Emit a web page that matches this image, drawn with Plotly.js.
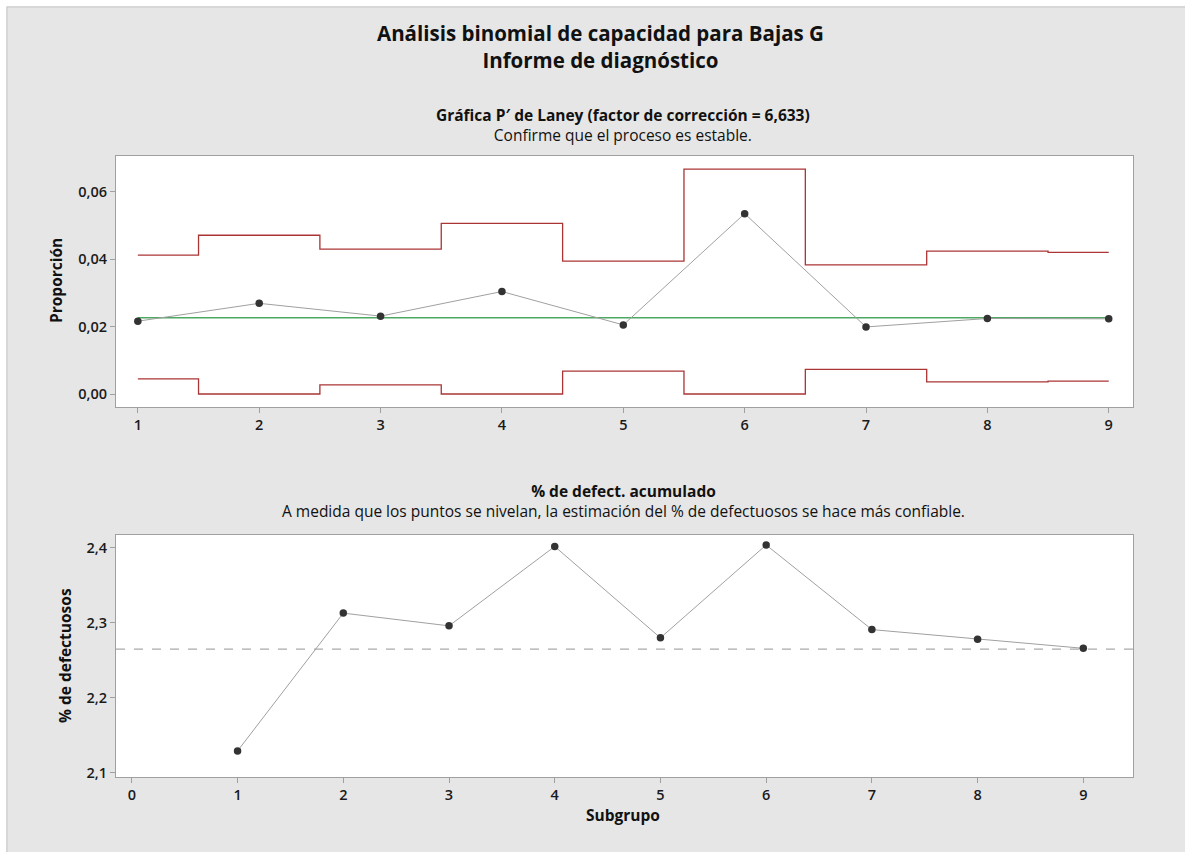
<!DOCTYPE html>
<html>
<head>
<meta charset="utf-8">
<script src="https://cdn.plot.ly/plotly-3.0.1.min.js"></script>
<style>html,body{margin:0;padding:0;background:#fff;}#chart{width:1185px;height:852px;}</style>
</head>
<body>
<div id="chart"></div>
<script>
// Data
const subgroups = [1, 2, 3, 4, 5, 6, 7, 8, 9];
const proportion = [0.0216, 0.0269, 0.0231, 0.0304, 0.0205, 0.0535, 0.0199, 0.0224, 0.0223];
const ucl = [0.0412, 0.0471, 0.0430, 0.0506, 0.0394, 0.0667, 0.0383, 0.0424, 0.0420];
const lcl = [0.0045, 0.0, 0.0027, 0.0, 0.0068, 0.0, 0.0073, 0.0036, 0.0038];
const centerLine = 0.02265;
const cumPct = [2.129, 2.313, 2.296, 2.402, 2.280, 2.404, 2.291, 2.278, 2.266];
const overallPct = 2.265;
const xTicksTop = [1, 2, 3, 4, 5, 6, 7, 8, 9];
const xTicksBottom = [0, 1, 2, 3, 4, 5, 6, 7, 8, 9];
const yTicksTop = [0, 0.02, 0.04, 0.06];
const yTicksBottom = [2.1, 2.2, 2.3, 2.4];

const W = 1185, H = 852;
const px = v => v / W;
const py = v => 1 - v / H;

const font = "Open Sans, Noto Sans, sans-serif";
const limitColor = '#ab3434';
const centerColor = '#4ea861';
const dataLine = '#a0a0a0';
const markerColor = '#333333';

const traces = [
  {x: subgroups, y: ucl, xaxis: 'x', yaxis: 'y', mode: 'lines', line: {color: limitColor, width: 1.3, shape: 'hvh'}},
  {x: subgroups, y: lcl, xaxis: 'x', yaxis: 'y', mode: 'lines', line: {color: limitColor, width: 1.3, shape: 'hvh'}},
  {x: [subgroups[0], subgroups[subgroups.length - 1]], y: [centerLine, centerLine], xaxis: 'x', yaxis: 'y', mode: 'lines', line: {color: centerColor, width: 1.5}},
  {x: subgroups, y: proportion, xaxis: 'x', yaxis: 'y', mode: 'lines+markers', line: {color: dataLine, width: 1}, marker: {color: markerColor, size: 7.5}},
  {x: [-0.15, 9.47], y: [overallPct, overallPct], xaxis: 'x2', yaxis: 'y2', mode: 'lines', line: {color: '#aaaaaa', width: 1.2, dash: 'dash'}},
  {x: subgroups, y: cumPct, xaxis: 'x2', yaxis: 'y2', mode: 'lines+markers', line: {color: dataLine, width: 1}, marker: {color: markerColor, size: 7.5}}
];

const axisCommon = {
  showgrid: false, zeroline: false, showline: true, mirror: true,
  linecolor: '#a0a0a0', linewidth: 1, ticks: 'outside', ticklen: 5,
  tickcolor: '#a0a0a0', tickfont: {family: font, size: 14.5, color: '#1a1a1a', weight: 600}
};

const ann = (text, x, y, size, extra) => Object.assign({
  text: text, x: px(x), y: py(y), xref: 'paper', yref: 'paper', showarrow: false,
  xanchor: 'center', yanchor: 'middle', font: {size: size, family: font, color: '#111'}
}, extra || {});

const layout = {
  width: W, height: H,
  margin: {l: 0, r: 0, t: 0, b: 0},
  paper_bgcolor: '#e6e6e6',
  plot_bgcolor: '#ffffff',
  showlegend: false,
  separators: ', ',
  font: {family: font, color: '#222'},
  xaxis: Object.assign({}, axisCommon, {domain: [px(116), px(1133)], range: [0.82, 9.2], tickvals: xTicksTop, anchor: 'y'}),
  yaxis: Object.assign({}, axisCommon, {domain: [py(407), py(156)], range: [-0.00385, 0.0706], tickvals: yTicksTop, tickformat: '.2f', anchor: 'x'}),
  xaxis2: Object.assign({}, axisCommon, {domain: [px(116), px(1133)], range: [-0.15, 9.47], tickvals: xTicksBottom, anchor: 'y2'}),
  yaxis2: Object.assign({}, axisCommon, {domain: [py(777), py(535)], range: [2.0942, 2.4173], tickvals: yTicksBottom, tickformat: '.1f', anchor: 'x2'}),
  shapes: [
    {type: 'rect', xref: 'paper', yref: 'paper', x0: 0, x1: 1, y0: py(6), y1: 1, fillcolor: '#ffffff', line: {width: 0}, layer: 'below'},
    {type: 'rect', xref: 'paper', yref: 'paper', x0: 0, x1: px(6), y0: 0, y1: 1, fillcolor: '#ffffff', line: {width: 0}, layer: 'below'},
    {type: 'line', xref: 'paper', yref: 'paper', x0: px(7), x1: 1, y0: py(7), y1: py(7), line: {color: '#c8c8c8', width: 1}},
    {type: 'line', xref: 'paper', yref: 'paper', x0: px(7), x1: px(7), y0: 0, y1: py(7), line: {color: '#c8c8c8', width: 1}}
  ],
  annotations: [
    ann('<b>Análisis binomial de capacidad para Bajas G</b><br><b>Informe de diagnóstico</b>', 600, 47, 20.5, {align: 'center'}),
    ann('<b>Gráfica P\u2032 de Laney (factor de corrección = 6,633)</b><br>Confirme que el proceso es estable.', 623, 125, 15.5, {align: 'center'}),
    ann('<b>% de defect. acumulado</b><br>A medida que los puntos se nivelan, la estimación del % de defectuosos se hace más confiable.', 623, 501, 15.5, {align: 'center'}),
    ann('<b>Proporción</b>', 56, 281, 15.5, {textangle: -90}),
    ann('<b>% de defectuosos</b>', 65, 656, 15.5, {textangle: -90}),
    ann('<b>Subgrupo</b>', 623, 815, 15.5)
  ]
};

Plotly.newPlot('chart', traces, layout, {displayModeBar: false, staticPlot: true});
</script>
</body>
</html>
